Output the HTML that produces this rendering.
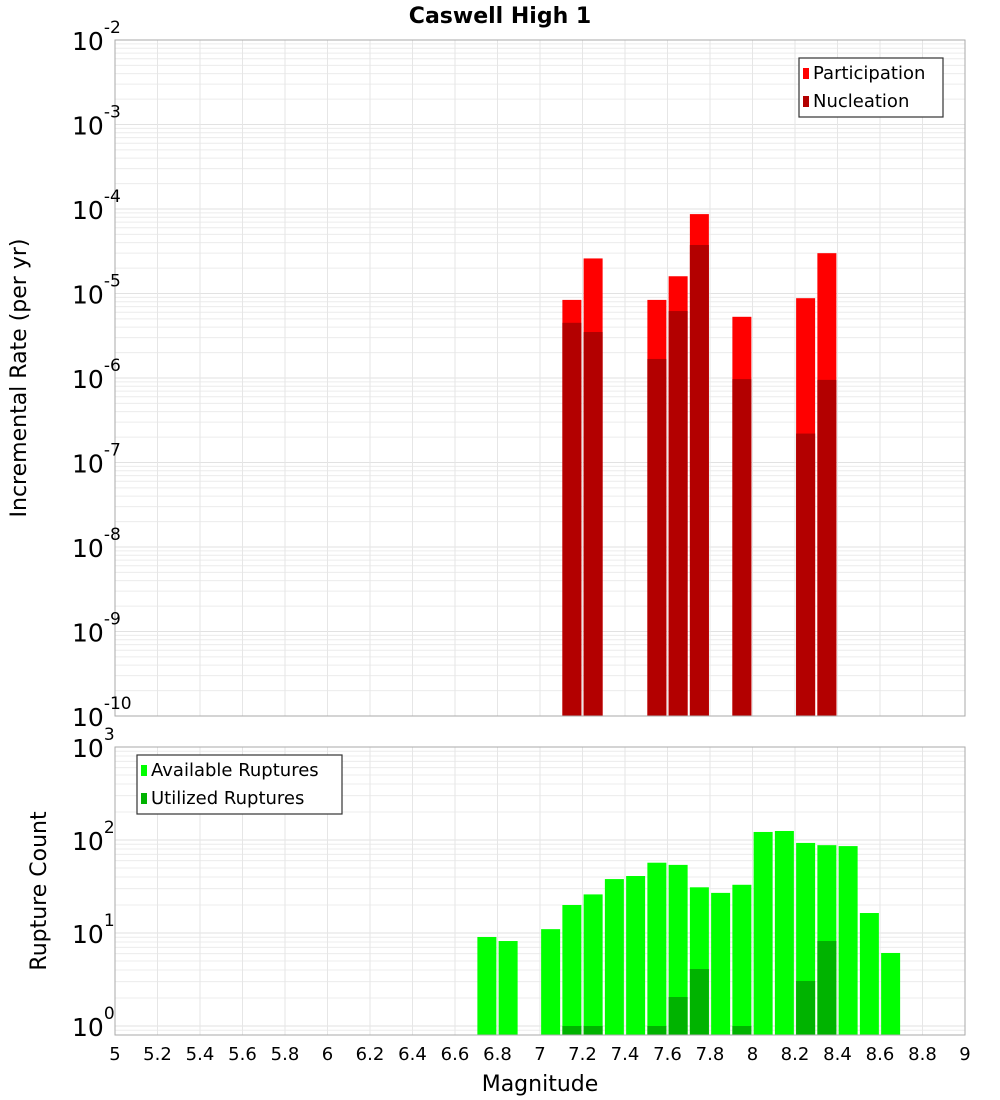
<!DOCTYPE html>
<html><head><meta charset="utf-8"><style>
body{margin:0;background:#fff;}
svg{display:block;font-family:"DejaVu Sans","Liberation Sans",sans-serif;}
</style></head><body>
<svg id="c" width="1000" height="1100" xmlns="http://www.w3.org/2000/svg"></svg>
<script>
const binCenters=[7.15,7.25,7.55,7.65,7.75,7.95,8.25,8.35];
const participation=[8.4e-6,2.6e-5,8.4e-6,1.6e-5,8.7e-5,5.3e-6,8.8e-6,3.0e-5];
const nucleation=[4.5e-6,3.5e-6,1.68e-6,6.2e-6,3.75e-5,9.7e-7,2.2e-7,9.5e-7];
const countCenters=[6.75,6.85,7.05,7.15,7.25,7.35,7.45,7.55,7.65,7.75,7.85,7.95,8.05,8.15,8.25,8.35,8.45,8.55,8.65];
const available=[9.06,8.2,11,20,26,38,41,57,54,31,27,33,122,125,93,88,86,16.4,6.1];
const utilCenters=[7.15,7.25,7.55,7.65,7.75,7.95,8.25,8.35];
const utilized=[1,1,1,2.05,4.1,1,3.05,8.2];
const xTicks=[5,5.2,5.4,5.6,5.8,6,6.2,6.4,6.6,6.8,7,7.2,7.4,7.6,7.8,8,8.2,8.4,8.6,8.8,9];
const topExp=[-2,-3,-4,-5,-6,-7,-8,-9,-10];
const botExp=[3,2,1,0];

const svg=document.getElementById('c');
const NS='http://www.w3.org/2000/svg';
function mk(tag,attrs,parent){const e=document.createElementNS(NS,tag);for(const k in attrs)e.setAttribute(k,attrs[k]);(parent||svg).appendChild(e);return e;}
const X0=115,X1=965;
const x=v=>X0+(v-5)/4*(X1-X0);
const T0=40,T1=716;
const yTop=v=>T0+(-2-Math.log10(v))*84.5;
const B0=747,B1=1035;
const yBot=v=>1026-Math.log10(v)*93;
const bw=19;

function grid(y0,y1,yf,expMin,expMax,name){
  const g=mk('g',{});
  
  
  for(let e=expMin;e<=expMax;e++){for(let m=1;m<10;m++){const v=m*Math.pow(10,e);const yy=yf(v);if(yy<y0-0.5||yy>y1+0.5)continue;
    mk('line',{x1:X0,x2:X1,y1:yy,y2:yy,stroke:m==1?'#e2e2e2':'#ececec','stroke-width':1},g);}}
  xTicks.forEach(t=>{mk('line',{x1:x(t),x2:x(t),y1:y0,y2:y1,stroke:'#e6e6e6','stroke-width':1},g);});
}
grid(T0,T1,yTop,-10,-3,'top-grid');
grid(B0,B1,yBot,-1,3,'bottom-grid');

// top bars
binCenters.forEach((c,i)=>{
  const r=mk('rect',{x:x(c)-bw/2,y:yTop(participation[i]),width:bw,height:T1-yTop(participation[i]),fill:'#ff0000'});
  
  
  const n=mk('rect',{x:x(c)-bw/2,y:yTop(nucleation[i]),width:bw,height:T1-yTop(nucleation[i]),fill:'#b30000'});
  
  
});
countCenters.forEach((c,i)=>{
  const r=mk('rect',{x:x(c)-bw/2,y:yBot(available[i]),width:bw,height:B1-yBot(available[i]),fill:'#00ff00'});
  
  
});
utilCenters.forEach((c,i)=>{
  const r=mk('rect',{x:x(c)-bw/2,y:yBot(utilized[i]),width:bw,height:B1-yBot(utilized[i]),fill:'#00b300'});
  
  
});

// frames
mk('rect',{x:X0,y:T0,width:X1-X0,height:T1-T0,fill:'none',stroke:'#aaa'});
mk('rect',{x:X0,y:B0,width:X1-X0,height:B1-B0,fill:'none',stroke:'#aaa'});

// y tick labels
function ylab(yy,e,name){
  const t=mk('text',{x:72,y:yy+10,'font-size':25,fill:'#000'});
  
  
  t.textContent='10';
  const s=mk('tspan',{dy:-17,'font-size':17},t);s.textContent=String(e);
}
topExp.forEach(e=>ylab(yTop(Math.pow(10,e)),e,'top-y-tick-label'));
botExp.forEach(e=>ylab(yBot(Math.pow(10,e)),e,'bottom-y-tick-label'));

xTicks.forEach(t=>{
  const tx=mk('text',{x:x(t),y:1060,'font-size':18,'text-anchor':'middle',fill:'#000'});
  
  
  tx.textContent=String(t);
});

function txt(s,attrs,name){const t=mk('text',attrs);t.textContent=s;return t;}
txt('Caswell High 1',{x:500,y:23,'font-size':22,'font-weight':'bold','text-anchor':'middle'},'chart-title');
txt('Magnitude',{x:540,y:1091,'font-size':22,'text-anchor':'middle'},'x-axis-title');
txt('Incremental Rate (per yr)',{x:0,y:0,'font-size':22,'text-anchor':'middle',transform:'translate(26,378) rotate(-90)'},'top-y-axis-title');
txt('Rupture Count',{x:0,y:0,'font-size':22,'text-anchor':'middle',transform:'translate(46,891) rotate(-90)'},'bottom-y-axis-title');

// legends
function legend(x0,y0,w,items,name){
  const g=mk('g',{});
  
  
  mk('rect',{x:x0,y:y0,width:w,height:59,fill:'#fff',stroke:'#333','stroke-width':1.2},g);
  items.forEach((it,i)=>{
    mk('rect',{x:x0+4,y:y0+10+i*28,width:6,height:11,fill:it[1]},g);
    const t=mk('text',{x:x0+14,y:y0+21+i*28,'font-size':18},g);t.textContent=it[0];
  });
}
legend(799,58,144,[['Participation','#ff0000'],['Nucleation','#b30000']],'top-legend');
legend(137,755,205,[['Available Ruptures','#00ff00'],['Utilized Ruptures','#00b300']],'bottom-legend');
</script>
</body></html>
